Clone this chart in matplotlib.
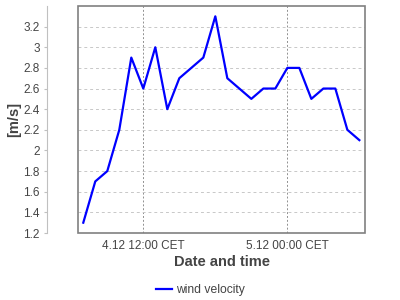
import datetime as dt
import matplotlib
matplotlib.use("Agg")
import matplotlib.pyplot as plt
import matplotlib.dates as mdates
import matplotlib.patches as mpatches
from matplotlib.ticker import FuncFormatter, FixedLocator

plt.rcParams["font.family"] = ["Liberation Sans", "DejaVu Sans"]

# hourly measurements, starting 4.12 07:00
START = dt.datetime(2012, 12, 4, 7)
HOURS = [0, 1, 2, 3, 4, 5, 6, 7, 8, 10, 11, 12, 14, 15, 16, 17, 18, 19, 20, 21, 22, 23]
SPEED = [1.3, 1.7, 1.8, 2.2, 2.9, 2.6, 3.0, 2.4, 2.7, 2.9, 3.3, 2.7,
         2.5, 2.6, 2.6, 2.8, 2.8, 2.5, 2.6, 2.6, 2.2, 2.1]
Y_TICKS = [1.2, 1.4, 1.6, 1.8, 2.0, 2.2, 2.4, 2.6, 2.8, 3.0, 3.2]
SERIES_NAME = "wind velocity"

TXT = "#444444"
FRAME = "#808080"
AXIS = "#c0c0c0"

times = [START + dt.timedelta(hours=h) for h in HOURS]

fig = plt.figure(figsize=(4, 3), dpi=100)
ax = fig.add_axes([78/400, 1 - 233/300, 287/400, 227/300])

ax.plot(times, SPEED, color="#0000ff", lw=1.6, label=SERIES_NAME, zorder=3)

ax.set_xlim(START - dt.timedelta(hours=0.44), START + dt.timedelta(hours=23.47))
ax.set_ylim(1.2, 3.4)

# y axis detached from the frame
for s in ("top", "right", "bottom"):
    ax.spines[s].set_visible(False)
ax.spines["left"].set_position(("outward", 22))
ax.spines["left"].set_color(AXIS)
ax.add_patch(mpatches.Rectangle((0, 0), 1, 1, transform=ax.transAxes, fill=False,
                                edgecolor=FRAME, lw=1.2, clip_on=False, zorder=4))

ax.yaxis.set_major_locator(FixedLocator(Y_TICKS))
ax.yaxis.set_major_formatter(FuncFormatter(lambda v, p: f"{v:.1f}".rstrip("0").rstrip(".")))
ax.tick_params(axis="y", direction="out", length=2.5, color=AXIS, labelsize=8.5,
               labelcolor=TXT, pad=3)

ax.xaxis.set_major_locator(mdates.HourLocator(byhour=[0, 12]))
ax.xaxis.set_major_formatter(FuncFormatter(
    lambda v, p: mdates.num2date(v).strftime("%d.%m %H:%M CET").lstrip("0")))
ax.tick_params(axis="x", length=0, labelsize=8.5, labelcolor=TXT, pad=5)

ax.yaxis.grid(True, color="#c8c8c8", lw=0.7, linestyle=(0, (3, 3)))
ax.xaxis.grid(True, color="#909090", lw=0.7, linestyle=(0, (2, 2)))
ax.set_axisbelow(True)

ax.set_ylabel("[m/s]", fontsize=10.5, fontweight="bold", color=TXT)
ax.yaxis.set_label_coords(-0.199, 0.5)
ax.set_xlabel("Date and time", fontsize=10.5, fontweight="bold", color=TXT, va="center")
ax.xaxis.set_label_coords(0.5, -29/227)

fig.legend(loc="center", bbox_to_anchor=(0.5, 1 - 290/300), frameon=False,
           fontsize=8.7, labelcolor=TXT, handlelength=1.35, handletextpad=0.3)

fig.savefig("out.png", dpi=100, facecolor="white")
